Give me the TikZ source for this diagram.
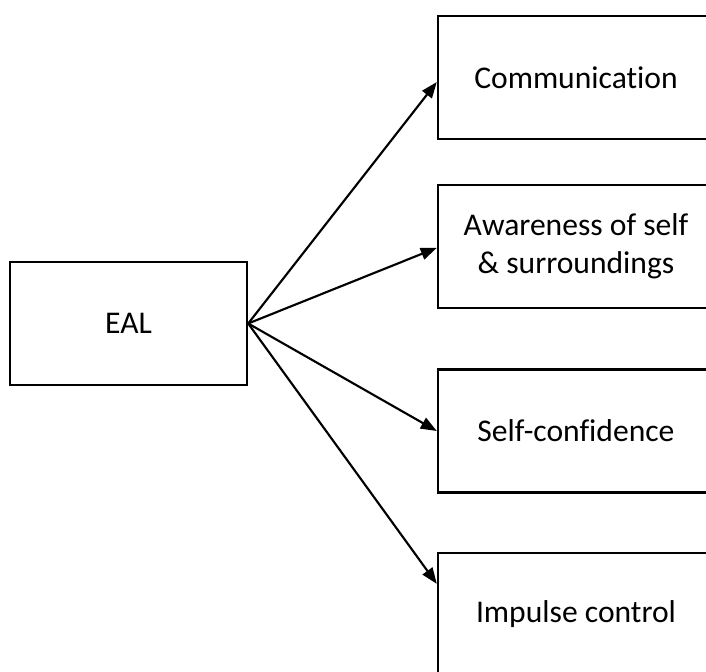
\documentclass[tikz,border=0pt]{standalone}
\usepackage{fontspec}
\setmainfont[Ligatures={NoCommon}]{Carlito}
\usetikzlibrary{arrows.meta}
\begin{document}
\begin{tikzpicture}[x=0.75pt,y=-0.75pt,
  box/.style={draw,line width=1.8pt,minimum width=207pt,minimum height=92pt,inner sep=0pt,font=\fontsize{23.7}{28.5}\selectfont,align=center},
  srcbox/.style={draw,line width=1.8pt,minimum width=177.75pt,minimum height=92.25pt,inner sep=0pt,font=\fontsize{23.7}{28.5}\selectfont},
  conn/.style={line width=1.6pt,-{Triangle[length=12pt,width=9pt]}}]
\useasboundingbox (0,0) rectangle (706,671);
\clip (0,0) rectangle (706,671);
\node[srcbox] (eal) at (128.5,323.5) {EAL};
\node[box] (b1) at (576,77.5) {Communication};
\node[box] (b2) at (576,246.5) {Awareness of self\\\& surroundings};
\node[box] (b3) at (576,431) {Self-confidence};
\node[box] (b4) at (576,614.5) {Impulse control};
\draw[conn] (eal.east) -- ([yshift=-3.4pt]b1.west);
\draw[conn] (eal.east) -- ([yshift=-1pt]b2.west);
\draw[conn] (eal.east) -- (b3.west);
\draw[conn] (eal.east) -- ([yshift=23pt]b4.west);
\end{tikzpicture}
\end{document}
